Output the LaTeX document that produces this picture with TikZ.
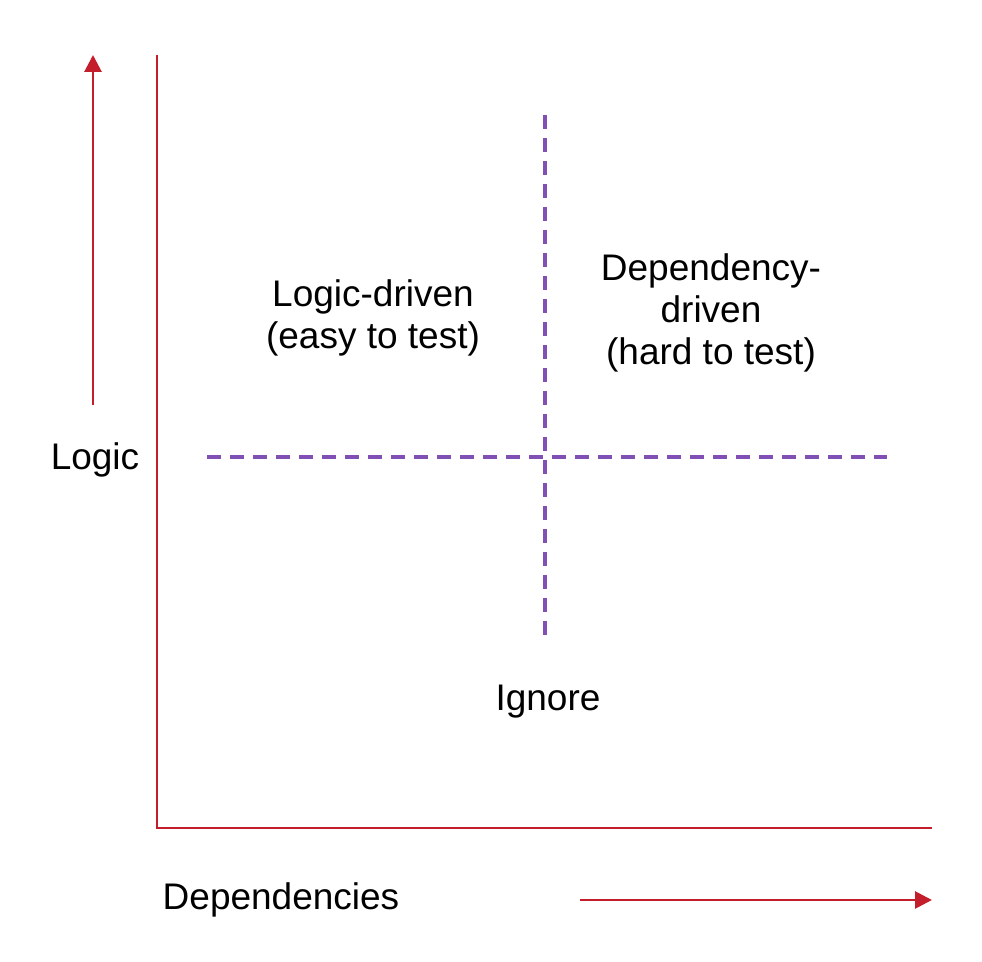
\documentclass[tikz,border=0pt]{standalone}
\usepackage{fontspec}
\setmainfont{Liberation Sans}
\usetikzlibrary{arrows.meta}
\definecolor{axisred}{RGB}{196,30,45}
\definecolor{splitpurple}{RGB}{128,80,180}

\begin{document}
\begin{tikzpicture}[x=0.5pt, y=-0.5pt,
    every node/.style={font=\fontsize{18.5}{21}\selectfont, align=center},
    axis/.style={axisred, line width=1.4pt},
    dir/.style={axisred, line width=1.4pt, -{Triangle[length=8.5pt,width=8.5pt]}},
    split/.style={splitpurple, line width=1.7pt, dash pattern=on 7pt off 4.5pt}]
  \useasboundingbox (0,0) rectangle (982,962);
  % axes
  \coordinate (origin) at (157,828);
  \coordinate (ytop) at (157,55);
  \coordinate (xend) at (932,828);
  \draw[axis] (ytop) -- (origin) -- (xend);
  % direction arrows
  \coordinate (upfrom) at (93,405);
  \coordinate (upto) at (93,55);
  \coordinate (rightfrom) at (580,900);
  \coordinate (rightto) at (932,900);
  \draw[dir] (upfrom) -- (upto);
  \draw[dir] (rightfrom) -- (rightto);
  % quadrant split
  \coordinate (hl) at (207,457);
  \coordinate (hr) at (887,457);
  \coordinate (vt) at (545,115);
  \coordinate (vb) at (545,640);
  \draw[split] (hl) -- (hr);
  \draw[split] (vt) -- (vb);
  % labels
  \node (logic) at (95,460) {Logic};
  \node (deps) at (281,900) {Dependencies};
  \node (logicdriven) at (373,318) {Logic-driven\\(easy to test)};
  \node (depdriven) at (711,313) {Dependency-\\driven\\(hard to test)};
  \node (ignore) at (548,702) {Ignore};
\end{tikzpicture}
\end{document}
